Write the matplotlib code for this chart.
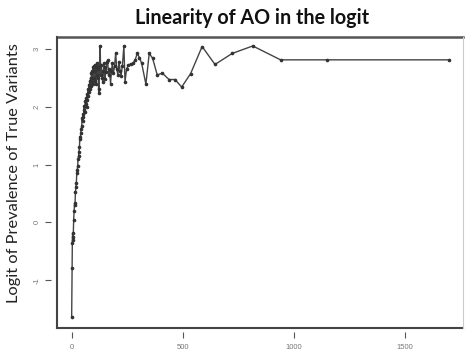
import matplotlib
matplotlib.use("Agg")
import matplotlib.pyplot as plt

title = "Linearity of AO in the logit"
ylabel = "Logit of Prevalence of True Variants"
xticks = [0, 500, 1000, 1500]
yticks = [-1, 0, 1, 2, 3]

x_vals = [0, 2, 3, 4, 6, 7, 9, 11, 13, 15, 17, 19, 21, 23, 25, 27, 29, 31, 33, 35,
          37, 39, 41, 43, 45, 47, 49, 51, 53, 55, 57, 59, 61, 63, 65, 67, 69, 71, 73, 75,
          77, 79, 81, 83, 85, 87, 89, 91, 93, 95, 97, 99, 101, 103, 105, 107, 109, 111, 113, 115,
          117, 119, 121, 123, 125, 128, 131, 134, 137, 140, 143, 146, 149, 152, 155, 158, 162, 166, 170, 175,
          179, 183, 188, 193, 198, 203, 208, 213, 218, 222, 228, 235, 240, 247, 255, 265, 275, 285, 295, 305,
          315, 334, 349, 364, 385, 408, 438, 465, 495, 535, 587, 645, 722, 815, 940, 1147, 1700]
y_vals = [-1.63, -0.78, -0.35, -0.19, -0.30, -0.25, 0.05, 0.20, 0.33, 0.30, 0.52, 0.62, 0.68, 0.85, 0.90, 0.98, 1.10, 1.15, 1.22, 1.30,
          1.48, 1.45, 1.55, 1.62, 1.66, 1.80, 1.75, 1.88, 1.82, 1.95, 2.02, 1.90, 2.10, 2.05, 2.15, 2.00, 2.22, 2.12, 2.30, 2.18,
          2.38, 2.25, 2.45, 2.30, 2.50, 2.35, 2.58, 2.42, 2.62, 2.40, 2.68, 2.50, 2.70, 2.45, 2.62, 2.72, 2.40, 2.68, 2.55, 2.75,
          2.50, 2.66, 2.30, 2.24, 2.70, 3.05, 2.55, 2.72, 2.50, 2.43, 2.62, 2.75, 2.48, 2.68, 2.60, 2.78, 2.80, 2.55, 2.65, 2.40,
          2.62, 2.75, 2.58, 2.70, 2.93, 2.65, 2.55, 2.78, 2.62, 2.53, 2.70, 3.05, 2.43, 2.65, 2.72, 2.74, 2.75, 2.80, 2.92, 2.85,
          2.75, 2.39, 2.92, 2.84, 2.55, 2.58, 2.47, 2.47, 2.34, 2.57, 3.04, 2.73, 2.92, 3.05, 2.81, 2.81, 2.81]

fig = plt.figure(figsize=(4.65, 3.51), dpi=100)
ax = fig.add_axes([57/465, 1 - 328.3/351, (463 - 57)/465, (328.3 - 36.7)/351])

ax.plot(x_vals, y_vals, color="#444444", lw=1.0, marker="o", markersize=1.6,
        markerfacecolor="#333333", markeredgecolor="#333333")

ax.set_xlim(-66, 1761)
ax.set_ylim(-1.83, 3.21)

for s in ax.spines.values():
    s.set_visible(False)
ax.spines["left"].set_position(("outward", 4))
ax.spines["bottom"].set_position(("outward", 3))

ax.set_xticks(xticks)
ax.set_xticklabels([str(t) for t in xticks])
ax.set_yticks(yticks)
ax.set_yticklabels([str(t) for t in yticks], rotation=90, va="center")
ax.tick_params(axis="both", direction="out", length=4, width=0.8, color="#555555",
               labelsize=5.5, labelcolor="#777777", pad=4)
for lab in ax.get_xticklabels() + ax.get_yticklabels():
    lab.set_fontfamily("Liberation Sans")

# box
ax.plot([0, 1], [1, 1], transform=ax.transAxes, color="#555555", lw=1.8, clip_on=False)
ax.plot([0, 0], [0, 1], transform=ax.transAxes, color="#444444", lw=1.5, clip_on=False)
ax.plot([0, 1], [0, 0], transform=ax.transAxes, color="#444444", lw=1.5, clip_on=False)
ax.plot([1, 1], [0, 1], transform=ax.transAxes, color="#cccccc", lw=0.8, clip_on=False)

fig.text(252/465, 1 - 18/351, title, ha="center", va="center", fontsize=14.2,
         fontweight="bold", family="Lato", color="#111111")
fig.text(14/465, 1 - 173/351, ylabel, ha="center", va="center", rotation=90,
         fontsize=11.8, family="Lato", color="#222222")

fig.savefig("out.png", dpi=100)
